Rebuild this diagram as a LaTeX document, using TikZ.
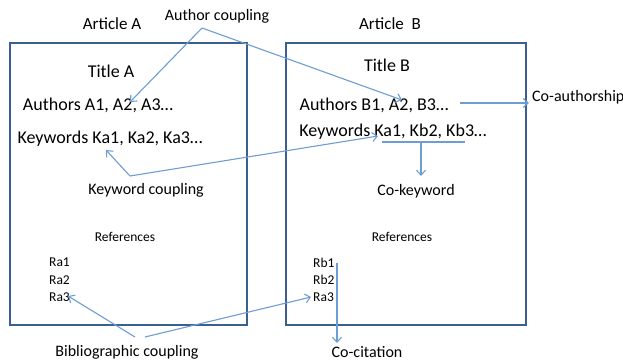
\documentclass[tikz,border=0pt]{standalone}
\usepackage{fontspec}
\setmainfont{Carlito}
\usetikzlibrary{arrows.meta}
\definecolor{boxblue}{HTML}{3C5F92}
\definecolor{arrblue}{HTML}{6E9DD3}
\begin{document}
\begin{tikzpicture}[x=1pt,y=-1pt,
 art/.style={draw=boxblue,line width=2.2pt,inner sep=0pt},
 big/.style={font=\fontsize{18}{20}\selectfont,inner sep=0pt},
 lab/.style={font=\fontsize{16}{18}\selectfont,inner sep=0pt},
 small/.style={font=\fontsize{13.5}{15}\selectfont,inner sep=0pt},
 arr/.style={draw=arrblue,line width=1.1pt,-{Straight Barb[length=5pt,width=9pt]}},
 ln/.style={draw=arrblue,line width=1.1pt}]
\useasboundingbox (0,0) rectangle (623,362);
% article boxes
\node[art,minimum width=237pt,minimum height=282pt,anchor=north west] (boxA) at (9,42) {};
\node[art,minimum width=240pt,minimum height=282pt,anchor=north west] (boxB) at (285,42) {};
% headings
\node[big,font=\fontsize{17}{19}\selectfont] (artA) at (112,24) {Article A};
\node[big,font=\fontsize{17}{19}\selectfont] (artB) at (390,24) {Article\ \ B};
\node[lab] (acoup) at (217,16) {Author coupling};
% article A content
\node[big] (titleA) at (111,71.5) {Title A};
\node[big] (authA) at (98,105) {Authors A1, A2, A3…};
\node[big] (kwA) at (110,139) {Keywords Ka1, Ka2, Ka3…};
\node[lab] (kcoup) at (146,190) {Keyword coupling};
\node[small] (refA) at (125,237) {References};
\node[small,anchor=west] (ra1) at (49,262.5) {Ra1};
\node[small,anchor=west] (ra2) at (49,280) {Ra2};
\node[small,anchor=west] (ra3) at (49,297) {Ra3};
% article B content
\node[big] (titleB) at (387,65) {Title B};
\node[big] (authB) at (374,105) {Authors B1, A2, B3…};
\node[big] (kwB) at (393,132) {Keywords Ka1, Kb2, Kb3…};
\node[lab] (ckw) at (416,191) {Co-keyword};
\node[small] (refB) at (402,237) {References};
\node[small,anchor=west] (rb1) at (313,262.5) {Rb1};
\node[small,anchor=west] (rb2) at (313,280) {Rb2};
\node[small,anchor=west] (rb3) at (313,297) {Ra3};
% outside labels
\node[lab,anchor=west] (coauth) at (532,97) {Co-authorship};
\node[lab] (bcoup) at (127,352) {Bibliographic coupling};
\node[lab] (ccit) at (367,352) {Co-citation};
% connector points
\coordinate (acT) at (202,28);
\coordinate (authA2) at (130,102);
\coordinate (authB2) at (402,100);
\coordinate (coS) at (460,103);
\coordinate (coE) at (529,103);
\coordinate (kcT) at (130,176);
\coordinate (kwAka) at (106,150);
\coordinate (kwBka) at (378,136);
\coordinate (ulL) at (382,142);
\coordinate (ulR) at (465,142);
\coordinate (ulM) at (421,142);
\coordinate (ckT) at (421,176);
\coordinate (bcL) at (135,337);
\coordinate (bcR) at (145,337);
\coordinate (ra3R) at (68,296);
\coordinate (rb3L) at (311,297);
\coordinate (ccS) at (337,263);
\coordinate (ccE) at (337,343);
% connectors
\draw[arr] (acT) -- (authA2);
\draw[arr] (acT) -- (authB2);
\draw[arr] (coS) -- (coE);
\draw[arr] (kcT) -- (kwAka);
\draw[arr] (kcT) -- (kwBka);
\draw[ln] (ulL) -- (ulR);
\draw[arr] (ulM) -- (ckT);
\draw[arr] (bcL) -- (ra3R);
\draw[arr] (bcR) -- (rb3L);
\draw[arr] (ccS) -- (ccE);
\end{tikzpicture}
\end{document}
